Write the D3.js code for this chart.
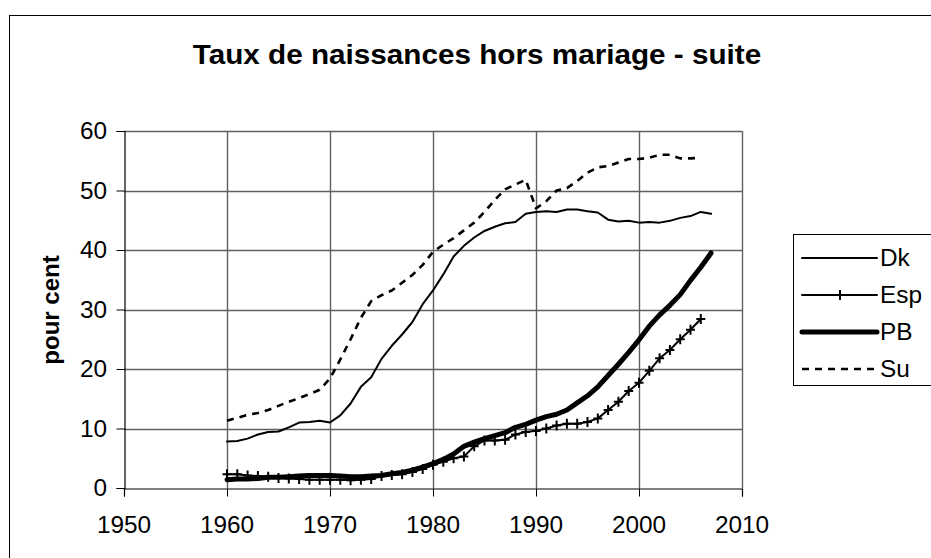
<!DOCTYPE html>
<html>
<head>
<meta charset="utf-8">
<script src="https://d3js.org/d3.v7.min.js"></script>
<style>
  body { margin: 0; background: #fff; }
  svg text { font-family: 'Liberation Sans', Arial, Helvetica, sans-serif; fill: #000; }
</style>
</head>
<body>
<svg id="svg-chart" width="931" height="558"></svg>
<script>
//////////////////////////////////////////////////////////////////////////////////////////
// Data
//////////////////////////////////////////////////////////////////////////////////////////

var title_text = 'Taux de naissances hors mariage - suite'
var y_title_text = 'pour cent'

var x_ticks = [1950, 1960, 1970, 1980, 1990, 2000, 2010]
var y_ticks = [0, 10, 20, 30, 40, 50, 60]

var series_names = ['Dk', 'Esp', 'PB', 'Su']
var start_year = 1960

// Danemark 1960-2007
var dk_values = [
  7.8, 7.9, 8.3, 9.0, 9.4, 9.5, 10.2, 11.0, 11.1, 11.3,
  11.0, 12.2, 14.2, 17.0, 18.6, 21.7, 23.9, 25.8, 27.9, 30.9,
  33.2, 35.9, 38.9, 40.7, 42.1, 43.2, 43.9, 44.5, 44.7, 46.1,
  46.4, 46.5, 46.4, 46.8, 46.8, 46.5, 46.3, 45.1, 44.8, 44.9,
  44.6, 44.7, 44.6, 44.9, 45.4, 45.7, 46.4, 46.1
]

// Espagne 1960-2006
var esp_values = [
  2.3, 2.3, 2.1, 2.0, 1.9, 1.7, 1.6, 1.5, 1.4, 1.4,
  1.4, 1.4, 1.3, 1.4, 1.5, 2.0, 2.2, 2.3, 2.7, 3.2,
  3.9, 4.4, 5.0, 5.3, 7.0, 8.0, 8.0, 8.1, 9.0, 9.4,
  9.6, 10.0, 10.5, 10.8, 10.8, 11.1, 11.7, 13.1, 14.5, 16.3,
  17.7, 19.7, 21.8, 23.2, 25.0, 26.6, 28.4
]

// Pays-Bas 1960-2007
var pb_values = [
  1.4, 1.5, 1.5, 1.6, 1.8, 1.8, 1.9, 2.0, 2.1, 2.1,
  2.1, 2.0, 1.9, 1.9, 2.0, 2.1, 2.4, 2.6, 3.0, 3.5,
  4.1, 4.8, 5.7, 7.0, 7.7, 8.3, 8.8, 9.3, 10.2, 10.7,
  11.4, 12.0, 12.4, 13.1, 14.3, 15.5, 17.0, 18.9, 20.8, 22.8,
  24.9, 27.2, 29.1, 30.7, 32.5, 34.9, 37.1, 39.5
]

// Suede 1960-2006
var su_values = [
  11.3, 11.8, 12.3, 12.6, 13.1, 13.8, 14.5, 15.1, 15.8, 16.5,
  18.4, 21.6, 25.0, 28.6, 31.4, 32.4, 33.2, 34.5, 35.8, 37.5,
  39.7, 40.9, 42.0, 43.3, 44.6, 46.4, 48.4, 50.2, 51.0, 51.8,
  47.0, 48.2, 50.0, 50.4, 51.6, 53.0, 53.9, 54.1, 54.7, 55.3,
  55.3, 55.5, 56.0, 56.0, 55.4, 55.4, 55.5
]

//////////////////////////////////////////////////////////////////////////////////////////
// Layout
//////////////////////////////////////////////////////////////////////////////////////////

var plot = { left: 124, right: 742, top: 131, bottom: 488 }
var text_stretch = 1.06

var x_scale = d3.scaleLinear().domain([1950, 2010]).range([plot.left, plot.right])
var y_scale = d3.scaleLinear().domain([0, 60]).range([plot.bottom, plot.top])

var series = [
  { name: series_names[0], values: dk_values, width: 2, dash: null, marker: false },
  { name: series_names[1], values: esp_values, width: 2, dash: null, marker: true },
  { name: series_names[2], values: pb_values, width: 5, dash: null, marker: false },
  { name: series_names[3], values: su_values, width: 2.6, dash: '7,6', marker: false }
]

var svg = d3.select('#svg-chart')

//////////////////////////////////////////////////////////////////////////////////////////
// Helpers
//////////////////////////////////////////////////////////////////////////////////////////

// Excel export is a bit wider than tall, so stretch text horizontally
function stretched_text(parent, x, y, str, size, anchor, bold) {
  return parent.append('text')
    .attr('transform', 'translate(' + x + ',' + y + ') scale(' + text_stretch + ',1)')
    .attr('text-anchor', anchor)
    .style('font-size', size + 'px')
    .style('font-weight', bold ? 'bold' : 'normal')
    .text(str)
}

function to_points(values) {
  return values.map(function(v, i) { return [start_year + i, v] })
}

//////////////////////////////////////////////////////////////////////////////////////////
// Chart frame and title
//////////////////////////////////////////////////////////////////////////////////////////

svg.append('rect')
  .attr('x', 9.5).attr('y', 15.5)
  .attr('width', 1000).attr('height', 1000)
  .attr('fill', '#fff')
  .attr('stroke', '#000')

stretched_text(svg, 477, 64, title_text, 28, 'middle', true)

svg.append('text')
  .attr('transform', 'translate(59,310) rotate(-90)')
  .attr('text-anchor', 'middle')
  .style('font-size', '24px')
  .style('font-weight', 'bold')
  .text(y_title_text)

//////////////////////////////////////////////////////////////////////////////////////////
// Gridlines
//////////////////////////////////////////////////////////////////////////////////////////

var g_grid = svg.append('g').attr('id', 'g-grid')

g_grid.selectAll('.grid-h')
  .data(y_ticks.filter(function(d) { return d > 0 }))
  .enter().append('line')
  .attr('class', 'grid-h')
  .attr('x1', plot.left).attr('x2', plot.right)
  .attr('y1', function(d) { return Math.round(y_scale(d)) + 0.5 })
  .attr('y2', function(d) { return Math.round(y_scale(d)) + 0.5 })
  .attr('stroke', '#606060').attr('stroke-width', 1.4)

g_grid.selectAll('.grid-v')
  .data(x_ticks.filter(function(d) { return d > 1950 }))
  .enter().append('line')
  .attr('class', 'grid-v')
  .attr('y1', plot.top).attr('y2', plot.bottom)
  .attr('x1', function(d) { return Math.round(x_scale(d)) + 0.5 })
  .attr('x2', function(d) { return Math.round(x_scale(d)) + 0.5 })
  .attr('stroke', '#606060').attr('stroke-width', 1.4)

//////////////////////////////////////////////////////////////////////////////////////////
// Axes
//////////////////////////////////////////////////////////////////////////////////////////

var g_x_axis = svg.append('g')
  .attr('transform', 'translate(0,' + (plot.bottom + 0.5) + ')')
  .call(d3.axisBottom(x_scale).tickValues(x_ticks).tickSize(8).tickFormat(''))
g_x_axis.select('.domain').attr('stroke-width', 1.2)

var g_y_axis = svg.append('g')
  .attr('transform', 'translate(' + (plot.left + 0.5) + ',0)')
  .call(d3.axisLeft(y_scale).tickValues(y_ticks).tickSize(8).tickFormat(''))
g_y_axis.select('.domain').attr('stroke-width', 1.2)

x_ticks.forEach(function(t) {
  stretched_text(svg, x_scale(t), 533, t, 23, 'middle', false)
})

y_ticks.forEach(function(t) {
  stretched_text(svg, 107, y_scale(t) + 8, t, 23, 'end', false)
})

//////////////////////////////////////////////////////////////////////////////////////////
// Series lines
//////////////////////////////////////////////////////////////////////////////////////////

var line_gen = d3.line()
  .x(function(d) { return x_scale(d[0]) })
  .y(function(d) { return y_scale(d[1]) })

var cross_path = 'M-4.5,0H4.5M0,-5V5'

var g_lines = svg.append('g').attr('id', 'g-lines')

series.forEach(function(s) {
  var pts = to_points(s.values)
  g_lines.append('path')
    .datum(pts)
    .attr('d', line_gen)
    .attr('fill', 'none')
    .attr('stroke', '#000')
    .attr('stroke-width', s.width)
    .attr('stroke-linejoin', 'round')
    .attr('stroke-linecap', s.dash ? 'butt' : 'round')
    .attr('stroke-dasharray', s.dash)

  if (s.marker) {
    g_lines.selectAll('.marker-' + s.name)
      .data(pts)
      .enter().append('path')
      .attr('class', 'marker-' + s.name)
      .attr('transform', function(d) { return 'translate(' + x_scale(d[0]) + ',' + y_scale(d[1]) + ')' })
      .attr('d', cross_path)
      .attr('stroke', '#000')
      .attr('stroke-width', 2)
  }
})

//////////////////////////////////////////////////////////////////////////////////////////
// Legend
//////////////////////////////////////////////////////////////////////////////////////////

var g_legend = svg.append('g').attr('id', 'g-legend')

g_legend.append('rect')
  .attr('x', 793.5).attr('y', 234.5)
  .attr('width', 300).attr('height', 151)
  .attr('fill', '#fff')
  .attr('stroke', '#000')

series.forEach(function(s, i) {
  var ly = 258 + i * 37
  g_legend.append('line')
    .attr('x1', 802).attr('x2', 877)
    .attr('y1', ly).attr('y2', ly)
    .attr('stroke', '#000')
    .attr('stroke-width', s.width)
    .attr('stroke-dasharray', s.dash)
    .attr('stroke-linecap', s.dash ? 'butt' : 'round')

  if (s.marker) {
    g_legend.append('path')
      .attr('transform', 'translate(840,' + ly + ')')
      .attr('d', cross_path)
      .attr('stroke', '#000')
      .attr('stroke-width', 2)
  }

  stretched_text(g_legend, 880, ly + 8, s.name, 23, 'start', false)
})
</script>
</body>
</html>
